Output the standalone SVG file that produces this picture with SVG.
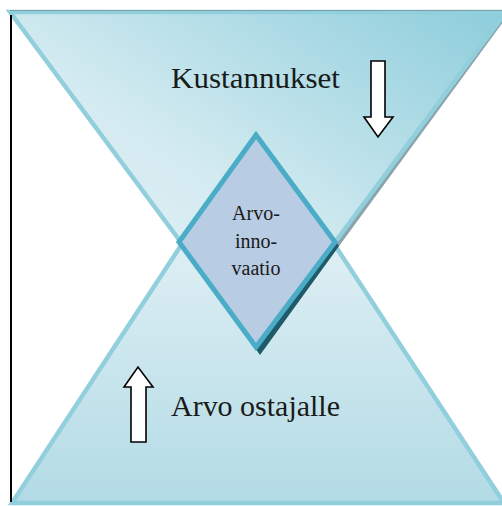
<svg xmlns="http://www.w3.org/2000/svg" width="502" height="506" viewBox="0 0 502 506">
<defs>
<linearGradient id="gTop" x1="0" y1="1" x2="1" y2="0">
<stop offset="0" stop-color="#eaf5f8"/>
<stop offset="0.45" stop-color="#d4ebf1"/>
<stop offset="1" stop-color="#8ccddb"/>
</linearGradient>
<linearGradient id="gBot" x1="0" y1="0" x2="0" y2="1">
<stop offset="0" stop-color="#f2f9fb"/>
<stop offset="0.5" stop-color="#d2e9f0"/>
<stop offset="1" stop-color="#b2dbe5"/>
</linearGradient>
<style>
.tri{stroke:#92cfdc;stroke-width:4.5;stroke-linejoin:miter}
.lbl{fill:#1a1a1a}
.arr{fill:#ffffff;stroke:#000000;stroke-width:1.6;stroke-linejoin:miter}
</style>
</defs>
<g id="bottom-triangle">
<polygon class="tri" points="12,503 504,503 258,128" fill="url(#gBot)"/>
</g>
<g id="top-triangle">
<polygon points="13,14 509,14 263,350" fill="#8aa4ac"/>
<polygon class="tri" points="10,12 506,12 258,346" fill="url(#gTop)"/>
<line x1="10" y1="10.5" x2="502" y2="10.5" stroke="#7d9fa8" stroke-width="1.2"/>
</g>
<line x1="11" y1="15" x2="11" y2="502" stroke="#000000" stroke-width="2"/>
<g id="diamond">
<polygon points="260,139 339,246 260,355 183,246" fill="#1f5a69"/>
<polygon points="256,135 335,242 256,347 179,242" fill="#b8cce4" stroke="#4aacc6" stroke-width="5" stroke-linejoin="miter"/>
<text class="lbl" font-family="'Liberation Serif', 'Times New Roman', serif" font-size="20" text-anchor="middle"><tspan x="256" y="220">Arvo-</tspan><tspan x="256" y="248">inno-</tspan><tspan x="256" y="275">vaatio</tspan></text>
</g>
<g id="label-costs">
<text class="lbl" font-family="'Liberation Serif', 'Times New Roman', serif" x="171" y="88" font-size="30" textLength="169" lengthAdjust="spacingAndGlyphs">Kustannukset</text>
</g>
<g id="label-value">
<text class="lbl" font-family="'Liberation Serif', 'Times New Roman', serif" x="171" y="416" font-size="30" textLength="169" lengthAdjust="spacingAndGlyphs">Arvo ostajalle</text>
</g>
<g id="connectors">
<polygon class="arr" points="371,61 385,61 385,117 393,117 378,137 364,117 371,117"/>
<polygon class="arr" points="131,442 146,442 146,387 153,387 138,367 124,387 131,387"/>
</g>
</svg>
